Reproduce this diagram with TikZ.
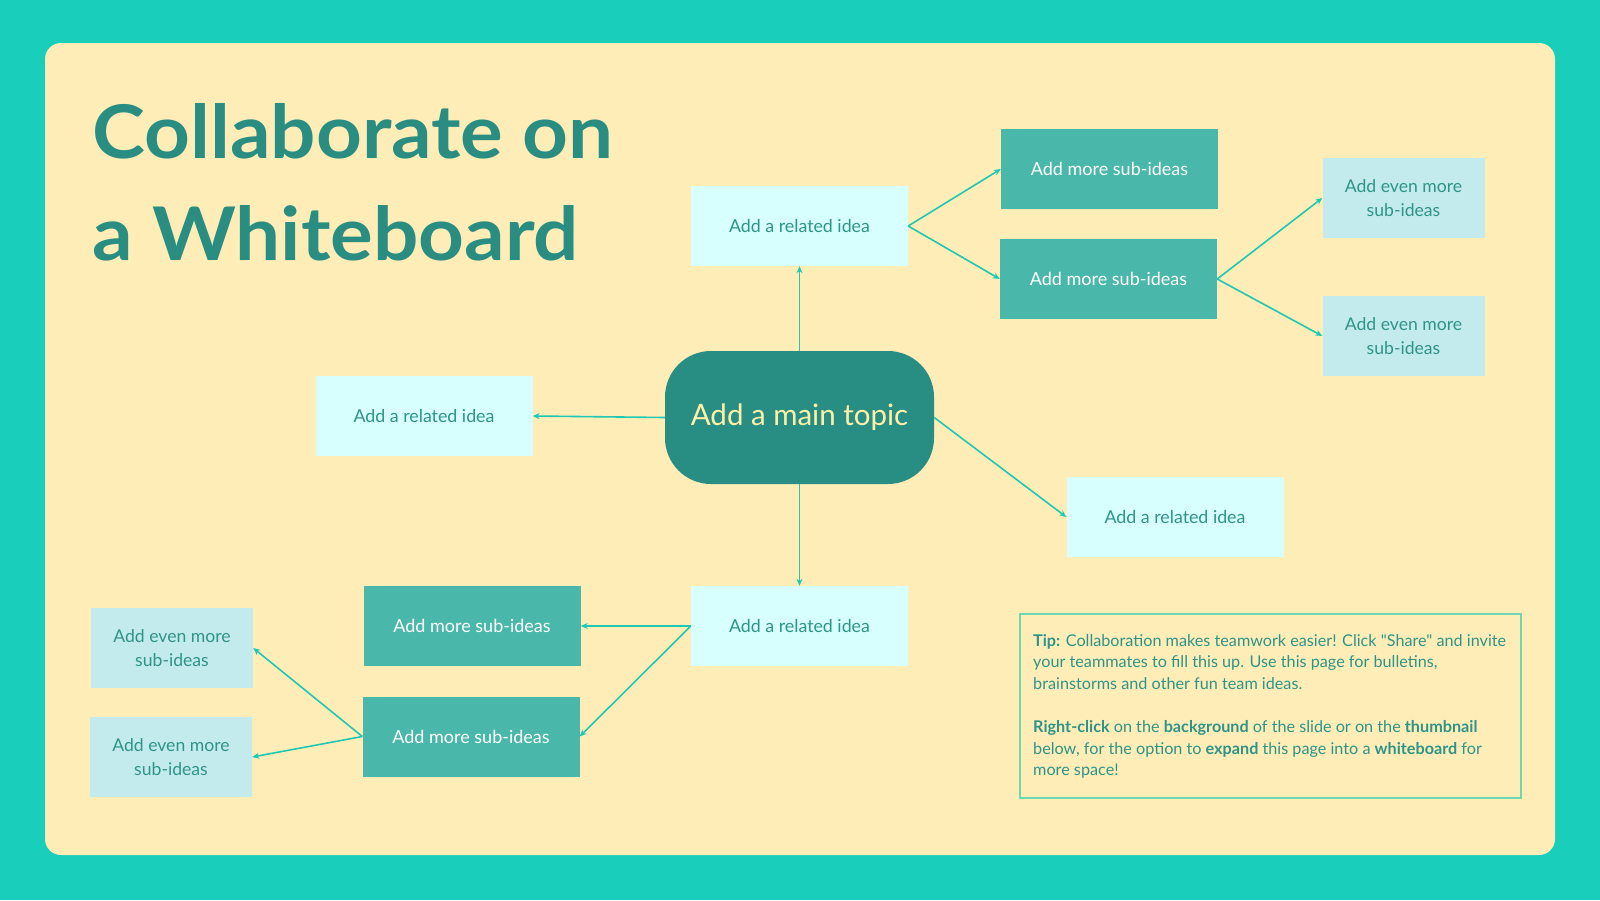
\documentclass[tikz,border=0pt]{standalone}
\usepackage{fontspec}
\setmainfont{Lato}[Ligatures=TeXOff]
\usetikzlibrary{arrows.meta}
\definecolor{outerbg}{HTML}{19CFBC}
\definecolor{cardbg}{HTML}{FFEDB8}
\definecolor{titlecol}{HTML}{298D82}
\definecolor{mainfill}{HTML}{288E84}
\definecolor{maintext}{HTML}{FFF0A8}
\definecolor{relfill}{HTML}{D7FFFD}
\definecolor{dtext}{HTML}{2E9488}
\definecolor{subfill}{HTML}{4AB7AB}
\definecolor{evenfill}{HTML}{C3EBEE}
\definecolor{conncol}{HTML}{1FC8B4}
\definecolor{tipborder}{HTML}{6FD8AE}
\begin{document}
\begin{tikzpicture}[x=1pt,y=-1pt,
  boxbase/.style={rectangle, inner sep=0pt, minimum height=80pt, align=center,
     font=\fontsize{17.8}{23.5}\selectfont},
  related/.style={boxbase, fill=relfill, text=dtext, minimum width=217pt},
  subidea/.style={boxbase, fill=subfill, text=white, minimum width=217pt,
     font=\fontsize{18}{23.5}\selectfont},
  evenmore/.style={boxbase, fill=evenfill, text=dtext, minimum width=162pt,
     font=\fontsize{17.6}{23.5}\selectfont},
  mainbox/.style={rectangle, rounded corners=46pt, fill=mainfill, text=maintext,
     minimum width=269pt, minimum height=133pt, inner sep=0pt,
     font=\fontsize{29.5}{34}\selectfont},
  conn/.style={draw=conncol, line width=1.6pt, -{Stealth[length=7pt,width=6pt]}},
  titletext/.style={anchor=base west, inner sep=0pt, text=titlecol,
     font=\fontsize{74}{80}\selectfont\bfseries}
]
\useasboundingbox (0,0) rectangle (1600,900);
\fill[outerbg] (0,0) rectangle (1600,900);
\fill[cardbg, rounded corners=16pt] (45,43) rectangle (1555,855);

% title
\node[titletext] (t1) at (92,158) {\scalebox{1.08}[1]{Collaborate on}};
\node[titletext] (t2) at (92,260) {\scalebox{1.08}[1]{a Whiteboard}};

% main topic
\node[mainbox] (main) at (799.5,417.5) {Add a main topic};

% related ideas
\node[related] (rtop) at (799.5,226) {Add a related idea};
\node[related] (rleft) at (424,416) {Add a related idea};
\node[related] (rright) at (1175,517) {Add a related idea};
\node[related] (rbot) at (799.5,626) {Add a related idea};

% sub-ideas
\node[subidea] (s1) at (1109.5,169) {Add more sub-ideas};
\node[subidea] (s2) at (1108.5,279) {Add more sub-ideas};
\node[subidea] (s3) at (472,626) {Add more sub-ideas};
\node[subidea] (s4) at (471,736.5) {Add more sub-ideas};

% even more
\node[evenmore] (e1) at (1403.5,198) {Add even more\\sub-ideas};
\node[evenmore] (e2) at (1403.5,336) {Add even more\\sub-ideas};
\node[evenmore] (e3) at (172,648) {Add even more\\sub-ideas};
\node[evenmore] (e4) at (171,757) {Add even more\\sub-ideas};

% connectors
\draw[conn] (main.north) -- (rtop.south);
\draw[conn] (main.west) -- (rleft.east);
\draw[conn] (main.east) -- (rright.west);
\draw[conn] (main.south) -- (rbot.north);
\draw[conn] (rtop.east) -- (s1.west);
\draw[conn] (rtop.east) -- (s2.west);
\draw[conn] (s2.east) -- (e1.west);
\draw[conn] (s2.east) -- (e2.west);
\draw[conn] (rbot.west) -- (s3.east);
\draw[conn] (rbot.west) -- (s4.east);
\draw[conn] (s4.west) -- (e3.east);
\draw[conn] (s4.west) -- (e4.east);

% tip box
\node[draw=tipborder, line width=1.2pt, minimum width=501pt, minimum height=184pt,
      inner sep=0pt] (tipbox) at (1270.5,706) {};
\node[anchor=north west, inner sep=0pt, align=left, text=dtext,
      font=\fontsize{16.2}{21.6}\selectfont] (tiptext) at (1033,634) {%
\textbf{Tip:} Collaboration makes teamwork easier! Click "Share" and invite\\
your teammates to fill this up. Use this page for bulletins,\\
brainstorms and other fun team ideas.\\[21.6pt]
\textbf{Right-click} on the \textbf{background} of the slide or on the \textbf{thumbnail}\\
below, for the option to \textbf{expand} this page into a \textbf{whiteboard} for\\
more space!};
\end{tikzpicture}
\end{document}
